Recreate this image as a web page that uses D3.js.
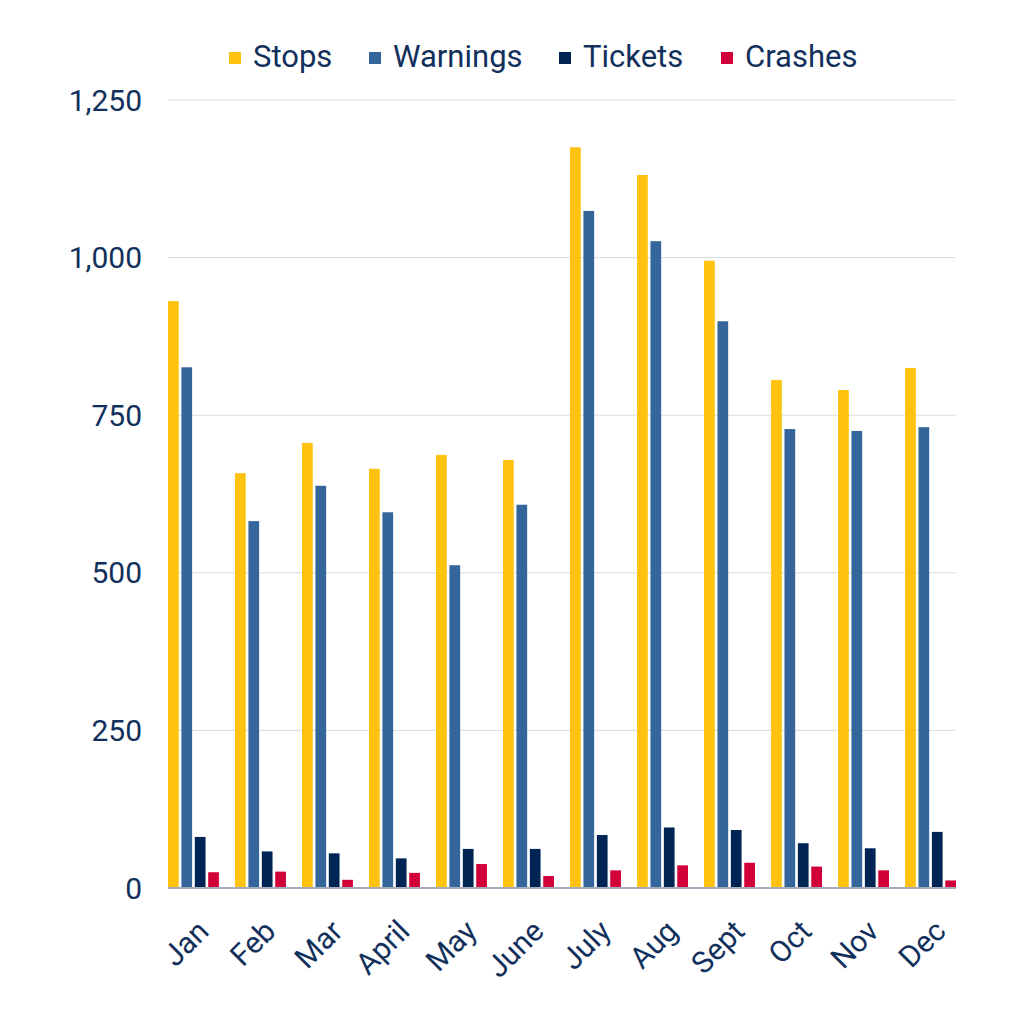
<!DOCTYPE html>
<html>
<head>
<meta charset="utf-8">
<script src="https://cdn.jsdelivr.net/npm/d3@7"></script>
<style>
  body { margin: 0; background: #fff; }
  text { font-family: Roboto, "Noto Sans", sans-serif; fill: #12305c; }
</style>
</head>
<body>
<div id="chart"></div>
<script>
var months = ["Jan", "Feb", "Mar", "April", "May", "June", "July", "Aug", "Sept", "Oct", "Nov", "Dec"];
var seriesNames = ["Stops", "Warnings", "Tickets", "Crashes"];
var stops    = [931, 658, 706, 665, 687, 679, 1175, 1131, 995, 806, 790, 825];
var warnings = [826, 582, 638, 596, 512, 608, 1074, 1026, 899, 728, 725, 731];
var tickets  = [81, 58, 55, 47, 62, 62, 84, 96, 92, 71, 63, 89];
var crashes  = [25, 26, 13, 24, 38, 19, 28, 36, 40, 34, 28, 12];
var yTicks = [0, 250, 500, 750, 1000, 1250];
var colors = ["#ffc20e", "#34659b", "#002454", "#d10038"];

var W = 1024, H = 1024;
var margin = {left: 168, right: 68, top: 100, bottom: 136};

var svg = d3.select('#chart').append('svg').attr('width', W).attr('height', H);

var x = d3.scaleBand().domain(months)
    .range([margin.left, W - margin.right]).paddingInner(0.24).paddingOuter(0);
var xs = d3.scaleBand().domain(seriesNames).range([0, x.bandwidth()]).paddingInner(0.2);
var y = d3.scaleLinear().domain([0, 1250]).range([H - margin.bottom, margin.top]);

// gridlines
svg.append('g').selectAll('line').data(yTicks.slice(1)).enter().append('line')
    .attr('x1', margin.left).attr('x2', W - margin.right)
    .attr('y1', function(d){ return y(d); }).attr('y2', function(d){ return y(d); })
    .attr('stroke', '#d6dbe2').attr('stroke-width', 1);

// y labels
var fmt = d3.format(',');
svg.append('g').selectAll('text').data(yTicks).enter().append('text')
    .attr('x', 142).attr('y', function(d){ return y(d); })
    .attr('dy', '0.35em').attr('text-anchor', 'end')
    .style('font-size', '30px')
    .text(function(d){ return fmt(d); });

// bars
var all = [stops, warnings, tickets, crashes];
var rows = [];
months.forEach(function(m, i){
    seriesNames.forEach(function(s, j){
        rows.push({month: m, series: s, value: all[j][i], color: colors[j]});
    });
});
svg.append('g').selectAll('rect').data(rows).enter().append('rect')
    .attr('x', function(d){ return x(d.month) + xs(d.series); })
    .attr('width', xs.bandwidth())
    .attr('y', function(d){ return y(d.value); })
    .attr('height', function(d){ return y(0) - y(d.value); })
    .attr('fill', function(d){ return d.color; });

// baseline
svg.append('line')
    .attr('x1', margin.left).attr('x2', W - margin.right)
    .attr('y1', y(0)).attr('y2', y(0))
    .attr('stroke', '#a3adbb').attr('stroke-width', 2);

// x labels
svg.append('g').selectAll('text').data(months).enter().append('text')
    .attr('transform', function(d){
        return 'translate(' + (x(d) + x.bandwidth() / 2 + 17) + ',' + 933 + ') rotate(-45)';
    })
    .attr('text-anchor', 'end')
    .style('font-size', '30px')
    .text(function(d){ return d; });

// legend
var legendX = [229, 369, 559, 721];
var lg = svg.append('g').selectAll('g').data(seriesNames).enter().append('g')
    .attr('transform', function(d, i){ return 'translate(' + legendX[i] + ',58)'; });
lg.append('rect').attr('x', 0).attr('y', -6).attr('width', 12).attr('height', 12)
    .attr('fill', function(d, i){ return colors[i]; });
lg.append('text').attr('x', 24).attr('y', 9)
    .style('font-size', '31px')
    .text(function(d){ return d; });
</script>
</body>
</html>
